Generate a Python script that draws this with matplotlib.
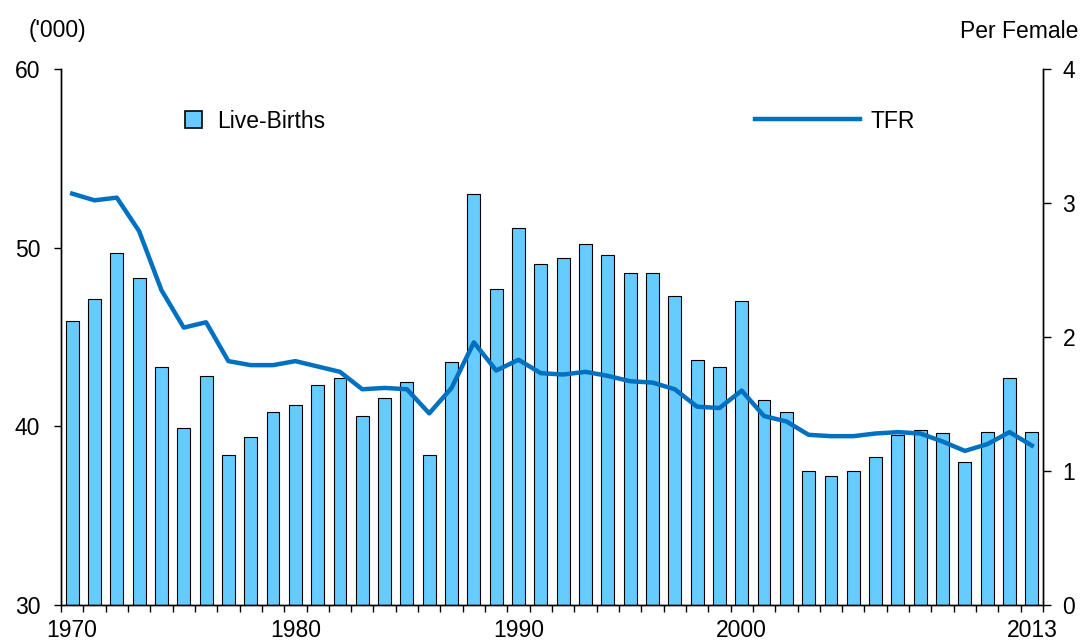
import matplotlib
matplotlib.use("Agg")
import matplotlib.pyplot as plt
from matplotlib.lines import Line2D
from matplotlib.patches import Patch
import numpy as np

years = list(range(1970, 2014))
live_births = [45.9, 47.1, 49.7, 48.3, 43.3, 39.9, 42.8, 38.4, 39.4, 40.8,
               41.2, 42.3, 42.7, 40.6, 41.6, 42.5, 38.4, 43.6, 53.0, 47.7,
               51.1, 49.1, 49.4, 50.2, 49.6, 48.6, 48.6, 47.3, 43.7, 43.3,
               47.0, 41.5, 40.8, 37.5, 37.2, 37.5, 38.3, 39.5, 39.8, 39.6,
               38.0, 39.7, 42.7, 39.7]
tfr = [3.07, 3.02, 3.04, 2.79, 2.35, 2.07, 2.11, 1.82, 1.79, 1.79,
       1.82, 1.78, 1.74, 1.61, 1.62, 1.61, 1.43, 1.62, 1.96, 1.75,
       1.83, 1.73, 1.72, 1.74, 1.71, 1.67, 1.66, 1.61, 1.48, 1.47,
       1.60, 1.41, 1.37, 1.27, 1.26, 1.26, 1.28, 1.29, 1.28, 1.22,
       1.15, 1.20, 1.29, 1.19]
label_years = [1970, 1980, 1990, 2000, 2013]

plt.rcParams['font.family'] = ['Liberation Sans', 'DejaVu Sans']
fs = 16.5

fig = plt.figure(figsize=(10.82, 6.43), dpi=100)
ax = fig.add_axes([61/1082, 1-605/643, (1043-61)/1082, (605-69)/643])
ax2 = ax.twinx()

x = np.arange(len(years))
ax.bar(x, live_births, width=0.58, color='#66CCFF', edgecolor='black',
       linewidth=0.8, zorder=2)
ax.set_ylim(30, 60)
ax.set_yticks([30, 40, 50, 60])
ax.set_xlim(-0.5, len(years) - 0.5)

ax2.plot(x, tfr, color='#0070C0', linewidth=3.2, zorder=3,
         solid_joinstyle='round')
ax2.set_ylim(0, 4)
ax2.set_yticks([0, 1, 2, 3, 4])

# x ticks: labels at selected years, tick marks at category boundaries
ax.set_xticks([years.index(y) for y in label_years])
ax.set_xticklabels([str(y) for y in label_years])
ax.set_xticks(np.arange(-0.5, len(years)), minor=True)
ax.tick_params(axis='x', which='major', length=0, pad=10, labelsize=fs)
ax.tick_params(axis='x', which='minor', length=5, width=1, direction='out')
ax.tick_params(axis='y', length=5, width=1, labelsize=fs, pad=10)
ax2.tick_params(axis='y', length=6, width=1, labelsize=fs, pad=8)

for a in (ax, ax2):
    a.spines['top'].set_visible(False)
    for s in ('left', 'right', 'bottom'):
        a.spines[s].set_linewidth(1)
        a.spines[s].set_color('black')

fig.text(57/1082, 1-31/643, "('000)", fontsize=fs, ha='center', va='center')
fig.text(1078/1082, 1-31/643, "Per Female", fontsize=fs, ha='right', va='center')

h1 = Patch(facecolor='#66CCFF', edgecolor='black', linewidth=1.2)
leg1 = fig.legend(handles=[h1], labels=['Live-Births'], loc='center left',
                  bbox_to_anchor=(185/1082, 1-121/643), frameon=False,
                  fontsize=fs, handlelength=0.74, handleheight=0.74,
                  handletextpad=0.65, borderpad=0, borderaxespad=0)
h2 = Line2D([], [], color='#0070C0', linewidth=3.2)
leg2 = fig.legend(handles=[h2], labels=['TFR'], loc='center left',
                  bbox_to_anchor=(755/1082, 1-121/643), frameon=False,
                  fontsize=fs, handlelength=4.57, handletextpad=0.45,
                  borderpad=0, borderaxespad=0)

fig.savefig('out.png', dpi=100)
